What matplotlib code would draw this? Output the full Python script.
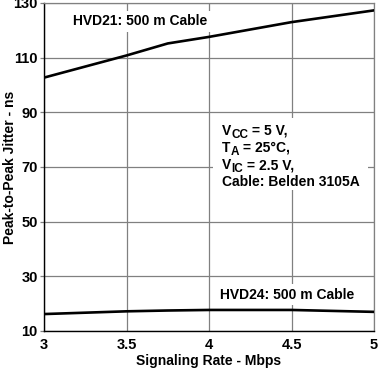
import matplotlib
matplotlib.use("Agg")
import matplotlib.pyplot as plt
from matplotlib.patches import Rectangle

plt.rcParams['font.family'] = ['Liberation Sans', 'DejaVu Sans']
plt.rcParams['font.weight'] = 'bold'

rate = [3.0, 3.5, 3.75, 4.0, 4.5, 5.0]
hvd21 = [102.7, 110.8, 115.2, 117.6, 123.0, 127.3]
hvd24 = [16.2, 17.2, 17.5, 17.7, 17.7, 17.0]
xticks = [3, 3.5, 4, 4.5, 5]
xticklabels = ['3', '3.5', '4', '4.5', '5']
yticks = [10, 30, 50, 70, 90, 110, 130]
# (main symbol, subscript, rest)
cond_parts = [('V', 'CC', ' = 5 V,'),
              ('T', 'A', ' = 25°C,'),
              ('V', 'IC', ' = 2.5 V,'),
              ('Cable: Belden 3105A', '', '')]

fig = plt.figure(figsize=(3.88, 3.70), dpi=100)
ax = fig.add_axes([44/388, 39/370, 330/388, 328/370])

ax.plot(rate, hvd21, color='black', lw=1.9, zorder=3)
ax.plot(rate, hvd24, color='black', lw=1.9, zorder=3)

ax.set_xlim(3, 5)
ax.set_ylim(10, 130)
ax.set_xticks(xticks)
ax.set_xticklabels(xticklabels)
ax.set_yticks(yticks)
ax.tick_params(axis='y', length=3, width=0.9, color='#808080', labelsize=10.5, pad=1.5)
ax.tick_params(axis='x', length=0, labelsize=10.5, pad=5)
ax.grid(True, color='#808080', lw=0.9)
ax.set_axisbelow(True)
for s in ['top', 'right']:
    ax.spines[s].set_color('#808080')
    ax.spines[s].set_linewidth(0.9)
for s in ['left', 'bottom']:
    ax.spines[s].set_color('black')
    ax.spines[s].set_linewidth(1.0)

ax.set_xlabel('Signaling Rate - Mbps', fontsize=10, fontweight='bold')
ax.xaxis.set_label_coords(0.5, -28/328 - 0.005, transform=ax.transAxes)
ax.xaxis.label.set_va('center')
ax.set_ylabel('Peak-to-Peak Jitter - ns', fontsize=10, fontweight='bold')
ax.yaxis.set_label_coords(-34/330, 0.5)
ax.yaxis.label.set_va('center')

bbox = dict(facecolor='white', edgecolor='none', pad=2.5)
ax.text(0.088, 0.945, 'HVD21: 500 m Cable', transform=ax.transAxes, fontsize=10,
        fontweight='bold', va='center', ha='left', bbox=bbox, zorder=2)
ax.text(0.533, 0.110, 'HVD24: 500 m Cable', transform=ax.transAxes, fontsize=10,
        fontweight='bold', va='center', ha='left', bbox=bbox, zorder=2)

ax.add_patch(Rectangle((0.512, 0.430), 0.47, 0.219, transform=ax.transAxes,
                       facecolor='white', edgecolor='none', zorder=1.5))
ys = [0.611, 0.558, 0.505, 0.453]
for (main, sub, rest), yy in zip(cond_parts, ys):
    t1 = ax.text(0.539, yy, main, transform=ax.transAxes, fontsize=10,
                 fontweight='bold', va='center', ha='left', zorder=2)
    if sub:
        t2 = ax.annotate(sub, xy=(1, 0), xycoords=t1, xytext=(0.2, -2.2),
                         textcoords='offset points', fontsize=8.5,
                         fontweight='bold', va='bottom', ha='left', zorder=2)
        ax.annotate(rest, xy=(1, 0), xycoords=t2, xytext=(0, 2.2),
                    textcoords='offset points', fontsize=10,
                    fontweight='bold', va='bottom', ha='left', zorder=2)

fig.savefig('out.png', dpi=100)
